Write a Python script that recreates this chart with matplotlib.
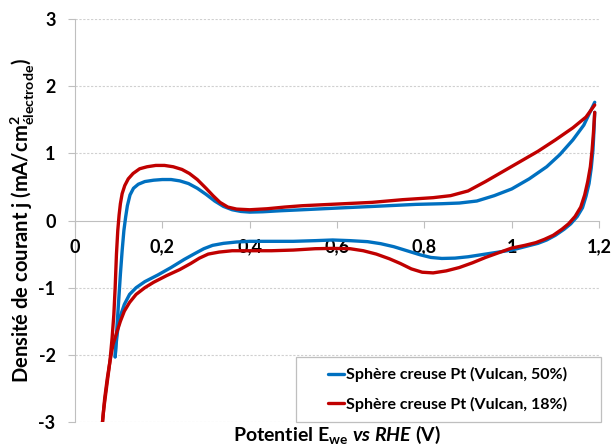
import matplotlib
matplotlib.use("Agg")
import matplotlib.pyplot as plt
from matplotlib.patches import Rectangle

# Sphère creuse Pt (Vulcan, 50%) - aller / retour
e_blue_fwd = [0.092, 0.096, 0.100, 0.104, 0.108, 0.112, 0.116, 0.120, 0.126, 0.134,
              0.145, 0.160, 0.180, 0.200, 0.220, 0.240, 0.260, 0.280, 0.300, 0.320,
              0.340, 0.360, 0.380, 0.400, 0.430, 0.470, 0.520, 0.600, 0.700, 0.780,
              0.840, 0.880, 0.920, 0.960, 1.000, 1.040, 1.080, 1.110, 1.140, 1.165, 1.190]
j_blue_fwd = [-2.03, -1.60, -1.20, -0.80, -0.45, -0.15, 0.05, 0.22, 0.38, 0.48,
              0.54, 0.58, 0.60, 0.61, 0.61, 0.59, 0.55, 0.48, 0.39, 0.29,
              0.21, 0.16, 0.135, 0.125, 0.13, 0.145, 0.16, 0.185, 0.215, 0.24,
              0.25, 0.26, 0.29, 0.37, 0.47, 0.62, 0.80, 0.98, 1.20, 1.42, 1.76]
e_blue_rev = [1.190, 1.188, 1.186, 1.182, 1.177, 1.170, 1.162, 1.150, 1.135, 1.120,
              1.100, 1.080, 1.060, 1.030, 1.000, 0.970, 0.940, 0.900, 0.870, 0.840,
              0.815, 0.790, 0.760, 0.730, 0.700, 0.670, 0.630, 0.590, 0.550, 0.500,
              0.450, 0.400, 0.370, 0.340, 0.315, 0.295, 0.275, 0.250, 0.220, 0.190,
              0.160, 0.140, 0.125, 0.113, 0.104, 0.098, 0.094, 0.092]
j_blue_rev = [1.61, 1.30, 1.05, 0.78, 0.55, 0.36, 0.19, 0.06, -0.05, -0.13,
              -0.22, -0.29, -0.34, -0.39, -0.44, -0.47, -0.50, -0.54, -0.56, -0.565,
              -0.55, -0.51, -0.45, -0.39, -0.345, -0.315, -0.30, -0.29, -0.30, -0.31,
              -0.31, -0.31, -0.32, -0.34, -0.37, -0.42, -0.49, -0.58, -0.70, -0.81,
              -0.91, -1.00, -1.10, -1.25, -1.42, -1.62, -1.85, -2.03]

# Sphère creuse Pt (Vulcan, 18%) - aller / retour
e_red_fwd = [0.063, 0.068, 0.074, 0.080, 0.085, 0.089, 0.092, 0.095, 0.098, 0.101,
             0.104, 0.108, 0.114, 0.122, 0.133, 0.148, 0.165, 0.185, 0.205, 0.225,
             0.245, 0.262, 0.280, 0.300, 0.316, 0.332, 0.350, 0.370, 0.400, 0.440,
             0.480, 0.520, 0.600, 0.680, 0.750, 0.820, 0.860, 0.900, 0.940, 0.980,
             1.020, 1.060, 1.100, 1.140, 1.170, 1.190]
j_red_fwd = [-3.00, -2.65, -2.35, -2.10, -1.75, -1.40, -1.00, -0.50, -0.15, 0.08,
             0.25, 0.40, 0.52, 0.62, 0.70, 0.77, 0.80, 0.82, 0.82, 0.80,
             0.76, 0.70, 0.61, 0.48, 0.37, 0.27, 0.20, 0.17, 0.16, 0.175,
             0.20, 0.22, 0.245, 0.27, 0.31, 0.34, 0.37, 0.44, 0.58, 0.73,
             0.88, 1.03, 1.20, 1.38, 1.54, 1.72]
e_red_rev = [1.190, 1.187, 1.184, 1.180, 1.174, 1.167, 1.158, 1.145, 1.130, 1.115,
             1.095, 1.075, 1.055, 1.030, 1.000, 0.970, 0.940, 0.910, 0.880, 0.850,
             0.820, 0.795, 0.770, 0.745, 0.720, 0.690, 0.660, 0.630, 0.590, 0.550,
             0.500, 0.450, 0.400, 0.360, 0.330, 0.305, 0.285, 0.265, 0.240, 0.210,
             0.180, 0.160, 0.140, 0.125, 0.113, 0.104, 0.095, 0.087, 0.080, 0.072,
             0.066, 0.063]
j_red_rev = [1.61, 1.30, 1.05, 0.80, 0.58, 0.38, 0.20, 0.06, -0.05, -0.13,
             -0.22, -0.28, -0.33, -0.37, -0.41, -0.48, -0.55, -0.63, -0.70, -0.75,
             -0.78, -0.77, -0.72, -0.64, -0.57, -0.50, -0.45, -0.42, -0.415, -0.42,
             -0.44, -0.45, -0.45, -0.45, -0.47, -0.50, -0.56, -0.64, -0.73, -0.82,
             -0.92, -1.00, -1.10, -1.22, -1.35, -1.50, -1.68, -1.85, -2.10, -2.50,
             -2.80, -3.00]

x_ticks = [0, 0.2, 0.4, 0.6, 0.8, 1.0, 1.2]
x_labels = ["0", "0,2", "0,4", "0,6", "0,8", "1", "1,2"]
y_ticks = [-3, -2, -1, 0, 1, 2, 3]
y_labels = ["-3", "-2", "-1", "0", "1", "2", "3"]

label_50 = "Sphère creuse Pt (Vulcan, 50%)"
label_18 = "Sphère creuse Pt (Vulcan, 18%)"

plt.rcParams["font.family"] = ["Lato", "DejaVu Sans"]
plt.rcParams["font.weight"] = "bold"
plt.rcParams["mathtext.fontset"] = "custom"
plt.rcParams["mathtext.rm"] = "Lato:bold"
plt.rcParams["mathtext.bf"] = "Lato:bold"
plt.rcParams["mathtext.it"] = "Lato:italic:bold"

blue = "#0070C0"
red = "#C00000"
grey = "#bfbfbf"

fig = plt.figure(figsize=(6.13, 4.48), dpi=100)
ax = fig.add_axes([0.1223, 0.058, 0.855, 0.8996])

ax.plot(e_blue_fwd, j_blue_fwd, color=blue, lw=2.4, solid_capstyle="round",
        label=label_50)
ax.plot(e_blue_rev, j_blue_rev, color=blue, lw=2.4, solid_capstyle="round")
ax.plot(e_red_fwd, j_red_fwd, color=red, lw=2.4, solid_capstyle="round",
        label=label_18)
ax.plot(e_red_rev, j_red_rev, color=red, lw=2.4, solid_capstyle="round")

ax.set_xlim(0, 1.2)
ax.set_ylim(-3, 3)

# axes: left spine at x=0, horizontal axis through j=0
for s in ["top", "right"]:
    ax.spines[s].set_visible(False)
ax.spines["bottom"].set_position(("data", 0))
ax.spines["bottom"].set_color(grey)
ax.spines["left"].set_color(grey)
ax.spines["bottom"].set_zorder(1)
ax.spines["left"].set_zorder(1)

for yv in [-3, -2, -1, 1, 2, 3]:
    ax.axhline(yv, color="#d0d0d0", lw=0.8, ls=(0, (2, 1.5)), zorder=0)

ax.set_xticks(x_ticks)
ax.set_xticklabels(x_labels)
ax.set_yticks(y_ticks)
ax.set_yticklabels(y_labels)
ax.tick_params(axis="x", direction="out", length=5, color=grey, pad=8,
               labelsize=13)
ax.tick_params(axis="y", direction="out", length=5, color=grey, pad=9,
               labelsize=13)

ax.set_ylabel(r"Densité de courant j (mA/cm$^{\mathbf{2}}_{\mathbf{électrode}}$)",
              fontsize=14.5, fontweight="bold")
ax.yaxis.set_label_coords(-0.072, 0.5)
ax.set_xlabel(r"Potentiel E$_{\mathbf{we}}$ $\mathit{vs}$ $\mathit{RHE}$ (V)",
              fontsize=14, fontweight="bold")
ax.xaxis.set_label_coords(0.5, -0.004)

# legend box
box = Rectangle((0.4218, 0.0), 0.582, 0.161, transform=ax.transAxes,
                facecolor="white", edgecolor=grey, lw=0.9, zorder=3,
                clip_on=False)
ax.add_patch(box)
leg = ax.legend(loc="center", bbox_to_anchor=(0.711, 0.0806), frameon=False,
                fontsize=11.5, handlelength=1.0, handletextpad=0.1,
                labelspacing=0.9)
leg.set_zorder(4)

fig.savefig("out.png", dpi=100)
